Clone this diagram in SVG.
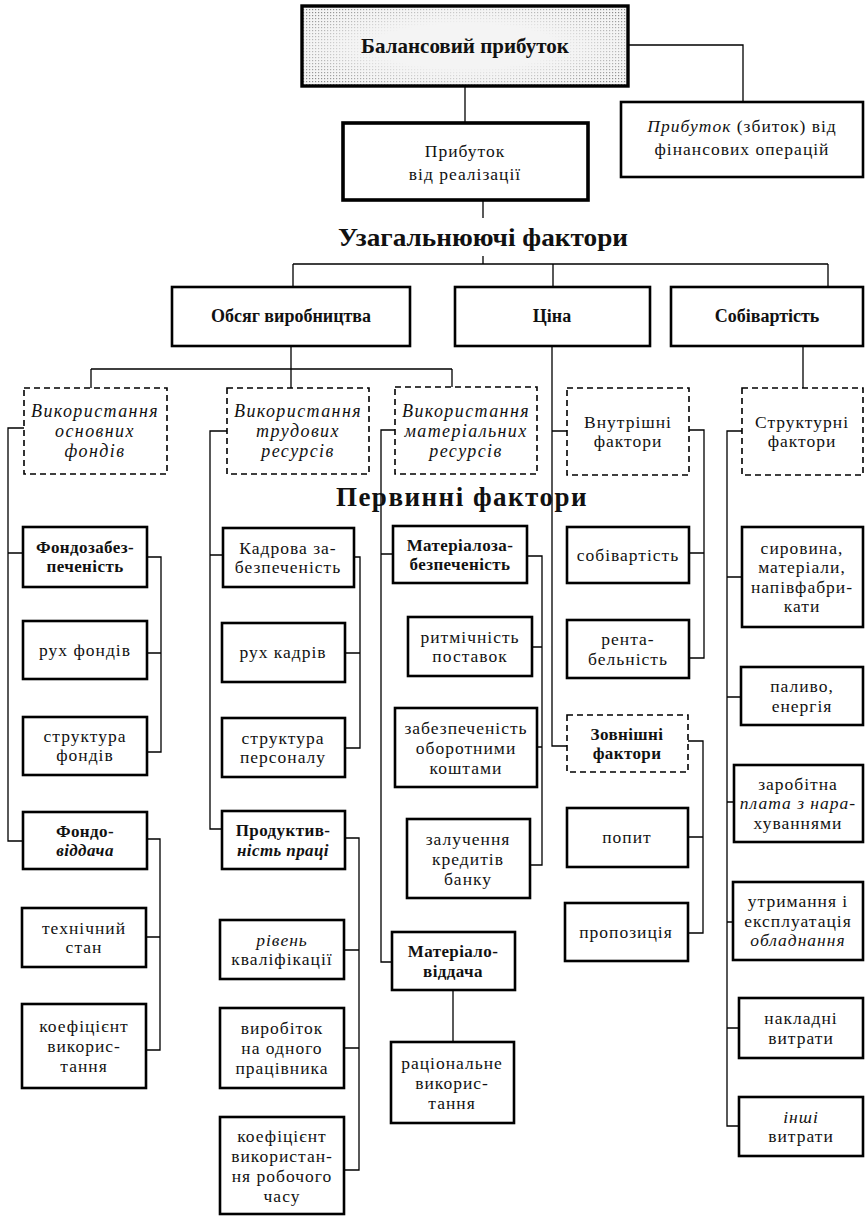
<svg xmlns="http://www.w3.org/2000/svg" width="867" height="1217" viewBox="0 0 867 1217">
  <style>
    .box { fill: #fff; stroke: #000; stroke-width: 2.6; }
    .thick { fill: #fff; stroke: #000; stroke-width: 3.6; }
    .dash { fill: #fff; stroke: #000; stroke-width: 1.6; stroke-dasharray: 6 4; }
    .con { fill: none; stroke: #000; stroke-width: 1.3; }
    .t { font-family: "Liberation Serif", "DejaVu Serif", serif; font-size: 17.5px; letter-spacing: 1px; text-anchor: middle; fill: #111; }
    .it { font-style: italic; }
    .b { font-weight: bold; font-size: 17px; letter-spacing: 0.4px; }
    .d { font-style: italic; font-size: 18px; letter-spacing: 1.4px; }
    .h { font-family: "Liberation Serif", "DejaVu Serif", serif; font-weight: bold; text-anchor: middle; fill: #111; }
  </style>
  <defs>
    <radialGradient id="edgeFade" cx="0.5" cy="0.5" r="0.62">
      <stop offset="0.45" stop-color="#000"/>
      <stop offset="1" stop-color="#ddd"/>
    </radialGradient>
    <pattern id="dots" width="3" height="3" patternUnits="userSpaceOnUse">
      <rect width="1.2" height="1.2" fill="#7a7a7a"/>
    </pattern>
    <mask id="edgeMask">
      <rect x="302" y="6" width="326" height="80" fill="url(#edgeFade)"/>
    </mask>
  </defs>

  <rect width="867" height="1217" fill="#fff"/>

  <!-- connectors -->
  <g id="connectors">
    <path class="con" d="M465 87 V123"/>
    <path class="con" d="M628 45 H743 V102"/>
    <path class="con" d="M483 200 V218"/>
    <path class="con" d="M483 256 V264 M293 264 H828 M293 264 V287 M553 264 V287 M828 264 V287"/>
    <path class="con" d="M291 346 V369 M91 369 H452 M91 369 V388 M291 369 V388 M452 369 V387"/>
    <path class="con" d="M552 346 V746 H567 M552 431 H567"/>
    <path class="con" d="M803 346 V388"/>
    <!-- основні фонди -->
    <path class="con" d="M24 428 H8 V841 H23 M8 553 H23"/>
    <path class="con" d="M147 557 H161 V752 H147 M147 653 H161"/>
    <path class="con" d="M147 839 H160 V1050 H146 M146 937 H160"/>
    <!-- трудові ресурси -->
    <path class="con" d="M227 431 H210 V829 H222 M210 555 H223"/>
    <path class="con" d="M354 557 H360 V748 H345 M345 653 H360"/>
    <path class="con" d="M345 838 H359 V1170 H344 M344 950 H359 M344 1048 H359"/>
    <!-- матеріальні ресурси -->
    <path class="con" d="M395 430 H381 V962 H392 M381 554 H393"/>
    <path class="con" d="M527 556 H542 V865 H530 M532 647 H542 M537 747 H542"/>
    <path class="con" d="M453 990 V1042"/>
    <!-- ціна -->
    <path class="con" d="M689 430 H704 V658 H689 M689 553 H704"/>
    <path class="con" d="M688 741 H703 V933 H688 M688 837 H703"/>
    <!-- собівартість -->
    <path class="con" d="M742 431 H727 V1126 H739 M727 577 H742 M727 697 H741 M727 802 H734 M727 922 H733 M727 1028 H739"/>
  </g>

  <!-- top level -->
  <g id="balance-profit">
    <rect x="302" y="6" width="326" height="80" fill="#f4f4f4"/>
    <rect x="302" y="6" width="326" height="80" fill="url(#dots)" mask="url(#edgeMask)"/>
    <rect x="302" y="6" width="326" height="80" fill="none" stroke="#000" stroke-width="3.4"/>
    <text class="h" x="465" y="53" font-size="21">Балансовий прибуток</text>
  </g>
  <g id="sales-profit">
    <rect class="thick" x="343" y="123" width="245" height="77"/>
    <text class="t" x="465" y="157" font-size="21">Прибуток</text>
    <text class="t" x="465" y="180" font-size="21">від реалізації</text>
  </g>
  <g id="financial-profit">
    <rect class="box" x="621" y="102" width="242" height="75"/>
    <text class="t" x="742" y="132" font-size="20" letter-spacing="1.2"><tspan class="it">Прибуток</tspan> (збиток) від</text>
    <text class="t" x="742" y="155" font-size="20" letter-spacing="1.2">фінансових операцій</text>
  </g>

  <g id="heading-general">
    <text class="h" x="483" y="246" font-size="26" textLength="290" lengthAdjust="spacingAndGlyphs">Узагальнюючі фактори</text>
  </g>

  <g id="volume">
    <rect class="box" x="172" y="287" width="238" height="59"/>
    <text class="h" x="291" y="322" font-size="18">Обсяг виробництва</text>
  </g>
  <g id="price">
    <rect class="box" x="455" y="287" width="195" height="59"/>
    <text class="h" x="552" y="322" font-size="18">Ціна</text>
  </g>
  <g id="cost">
    <rect class="box" x="671" y="287" width="192" height="59"/>
    <text class="h" x="767" y="322" font-size="18">Собівартість</text>
  </g>

  <!-- second level (dashed) -->
  <g id="use-fixed-assets">
    <rect class="dash" x="24" y="388" width="143" height="86"/>
    <text class="t d" x="95" y="417">Використання</text>
    <text class="t d" x="95" y="437">основних</text>
    <text class="t d" x="95" y="457">фондів</text>
  </g>
  <g id="use-labour">
    <rect class="dash" x="227" y="388" width="142" height="86"/>
    <text class="t d" x="298" y="417">Використання</text>
    <text class="t d" x="298" y="437">трудових</text>
    <text class="t d" x="298" y="457">ресурсів</text>
  </g>
  <g id="use-materials">
    <rect class="dash" x="395" y="387" width="142" height="87"/>
    <text class="t d" x="466" y="417">Використання</text>
    <text class="t d" x="466" y="437">матеріальних</text>
    <text class="t d" x="466" y="457">ресурсів</text>
  </g>
  <g id="internal">
    <rect class="dash" x="567" y="388" width="122" height="87"/>
    <text class="t" x="628" y="428">Внутрішні</text>
    <text class="t" x="628" y="447">фактори</text>
  </g>
  <g id="structural">
    <rect class="dash" x="742" y="388" width="121" height="87"/>
    <text class="t" x="802" y="428">Структурні</text>
    <text class="t" x="802" y="447">фактори</text>
  </g>

  <g id="heading-primary">
    <text class="h" x="462" y="506" font-size="27" letter-spacing="1.5">Первинні  фактори</text>
  </g>

  <!-- основні фонди -->
  <g id="capital-supply">
    <rect class="box" x="23" y="527" width="124" height="60"/>
    <text class="t b" x="85" y="553">Фондозабез-</text>
    <text class="t b" x="85" y="572">печеність</text>
  </g>
  <g id="asset-movement">
    <rect class="box" x="23" y="621" width="124" height="58"/>
    <text class="t" x="85" y="656">рух фондів</text>
  </g>
  <g id="asset-structure">
    <rect class="box" x="23" y="717" width="124" height="58"/>
    <text class="t" x="85" y="742">структура</text>
    <text class="t" x="85" y="761">фондів</text>
  </g>
  <g id="capital-productivity">
    <rect class="box" x="23" y="812" width="124" height="57"/>
    <text class="t b" x="85" y="837">Фондо-</text>
    <text class="t b it" x="85" y="856">віддача</text>
  </g>
  <g id="technical-state">
    <rect class="box" x="22" y="908" width="124" height="59"/>
    <text class="t" x="84" y="934">технічний</text>
    <text class="t" x="84" y="953">стан</text>
  </g>
  <g id="usage-ratio">
    <rect class="box" x="22" y="1004" width="124" height="84"/>
    <text class="t" x="84" y="1032">коефіцієнт</text>
    <text class="t" x="84" y="1052">викорис-</text>
    <text class="t" x="84" y="1072">тання</text>
  </g>

  <!-- трудові ресурси -->
  <g id="staff-supply">
    <rect class="box" x="223" y="528" width="131" height="59"/>
    <text class="t" x="288" y="554">Кадрова за-</text>
    <text class="t" x="288" y="573">безпеченість</text>
  </g>
  <g id="staff-movement">
    <rect class="box" x="222" y="623" width="123" height="59"/>
    <text class="t" x="283" y="658">рух кадрів</text>
  </g>
  <g id="staff-structure">
    <rect class="box" x="222" y="718" width="123" height="59"/>
    <text class="t" x="283" y="744">структура</text>
    <text class="t" x="283" y="763">персоналу</text>
  </g>
  <g id="labour-productivity">
    <rect class="box" x="222" y="811" width="123" height="58"/>
    <text class="t b" x="283" y="836">Продуктив-</text>
    <text class="t b" x="283" y="856"><tspan class="it">ність праці</tspan></text>
  </g>
  <g id="qualification">
    <rect class="box" x="220" y="920" width="124" height="59"/>
    <text class="t it" x="282" y="946">рівень</text>
    <text class="t" x="282" y="965">кваліфікації</text>
  </g>
  <g id="output-per-worker">
    <rect class="box" x="220" y="1008" width="124" height="80"/>
    <text class="t" x="282" y="1034">виробіток</text>
    <text class="t" x="282" y="1054">на одного</text>
    <text class="t" x="282" y="1074">працівника</text>
  </g>
  <g id="worktime-ratio">
    <rect class="box" x="220" y="1117" width="124" height="97"/>
    <text class="t" x="282" y="1142">коефіцієнт</text>
    <text class="t" x="282" y="1162">використан-</text>
    <text class="t" x="282" y="1182">ня робочого</text>
    <text class="t" x="282" y="1202">часу</text>
  </g>

  <!-- матеріальні ресурси -->
  <g id="material-supply">
    <rect class="box" x="393" y="526" width="134" height="57"/>
    <text class="t b" x="460" y="551">Матеріалоза-</text>
    <text class="t b" x="460" y="570">безпеченість</text>
  </g>
  <g id="delivery-rhythm">
    <rect class="box" x="408" y="617" width="124" height="59"/>
    <text class="t" x="470" y="643">ритмічність</text>
    <text class="t" x="470" y="662">поставок</text>
  </g>
  <g id="working-capital">
    <rect class="box" x="395" y="708" width="142" height="79"/>
    <text class="t" x="466" y="734">забезпеченість</text>
    <text class="t" x="466" y="754">оборотними</text>
    <text class="t" x="466" y="774">коштами</text>
  </g>
  <g id="bank-credit">
    <rect class="box" x="407" y="819" width="123" height="79"/>
    <text class="t" x="468" y="845">залучення</text>
    <text class="t" x="468" y="865">кредитів</text>
    <text class="t" x="468" y="885">банку</text>
  </g>
  <g id="material-productivity">
    <rect class="box" x="392" y="932" width="123" height="58"/>
    <text class="t b" x="453" y="957">Матеріало-</text>
    <text class="t b" x="453" y="977">віддача</text>
  </g>
  <g id="rational-use">
    <rect class="box" x="391" y="1042" width="123" height="81"/>
    <text class="t" x="452" y="1069">раціональне</text>
    <text class="t" x="452" y="1089">викорис-</text>
    <text class="t" x="452" y="1109">тання</text>
  </g>

  <!-- ціна -->
  <g id="unit-cost">
    <rect class="box" x="567" y="527" width="122" height="56"/>
    <text class="t" x="628" y="561">собівартість</text>
  </g>
  <g id="profitability">
    <rect class="box" x="567" y="620" width="122" height="58"/>
    <text class="t" x="628" y="645">рента-</text>
    <text class="t" x="628" y="665">бельність</text>
  </g>
  <g id="external">
    <rect class="dash" x="567" y="715" width="121" height="57"/>
    <text class="t b" x="627" y="740">Зовнішні</text>
    <text class="t b" x="627" y="759">фактори</text>
  </g>
  <g id="demand">
    <rect class="box" x="567" y="808" width="121" height="59"/>
    <text class="t" x="627" y="843">попит</text>
  </g>
  <g id="supply">
    <rect class="box" x="565" y="903" width="123" height="58"/>
    <text class="t" x="626" y="938">пропозиція</text>
  </g>

  <!-- собівартість -->
  <g id="raw-materials">
    <rect class="box" x="742" y="527" width="121" height="100"/>
    <text class="t" x="802" y="554">сировина,</text>
    <text class="t" x="802" y="573">матеріали,</text>
    <text class="t" x="802" y="593">напівфабри-</text>
    <text class="t" x="802" y="612">кати</text>
  </g>
  <g id="fuel-energy">
    <rect class="box" x="741" y="667" width="122" height="58"/>
    <text class="t" x="802" y="692">паливо,</text>
    <text class="t" x="802" y="712">енергія</text>
  </g>
  <g id="wages">
    <rect class="box" x="734" y="765" width="129" height="77"/>
    <text class="t" x="798" y="790">заробітна</text>
    <text class="t" x="798" y="809"><tspan class="it">плата з нара-</tspan></text>
    <text class="t" x="798" y="829">хуваннями</text>
  </g>
  <g id="equipment">
    <rect class="box" x="733" y="882" width="130" height="78"/>
    <text class="t" x="798" y="907">утримання і</text>
    <text class="t" x="798" y="927">експлуатація</text>
    <text class="t it" x="798" y="946">обладнання</text>
  </g>
  <g id="overheads">
    <rect class="box" x="739" y="998" width="124" height="60"/>
    <text class="t" x="801" y="1024">накладні</text>
    <text class="t" x="801" y="1044">витрати</text>
  </g>
  <g id="other-costs">
    <rect class="box" x="739" y="1097" width="124" height="59"/>
    <text class="t it" x="801" y="1123">інші</text>
    <text class="t" x="801" y="1142">витрати</text>
  </g>
</svg>
